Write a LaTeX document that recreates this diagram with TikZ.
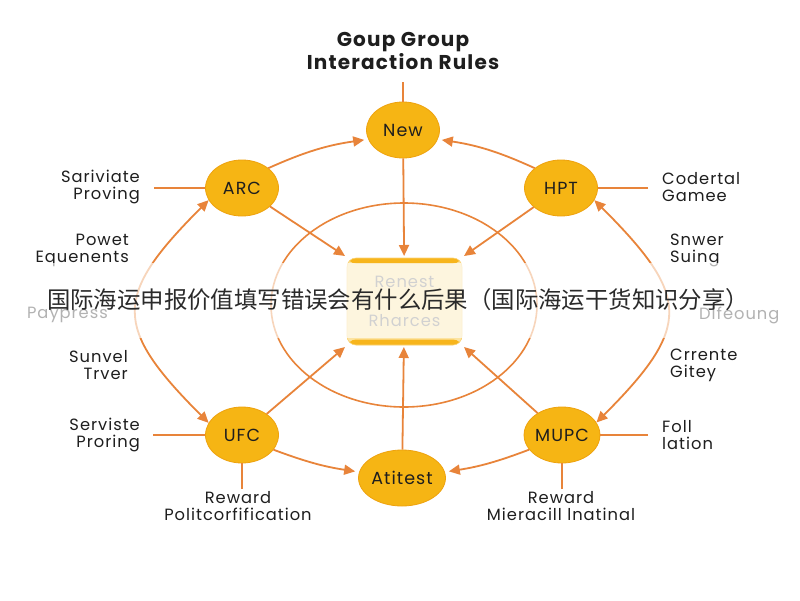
\documentclass[tikz,border=0pt]{standalone}
\usepackage{fontspec}
\usetikzlibrary{shapes.geometric,arrows.meta}
\newfontfamily\popfont[LetterSpace=6]{Poppins}
\newfontfamily\cjkfont{Noto Sans CJK SC}
\newcommand\labfont{\popfont\fontsize{16.3}{17}\selectfont}
\newcommand\hubfont{\popfont\fontsize{17.5}{19}\selectfont}
\newcommand\titfont{\popfont\bfseries\fontsize{20}{18.5}\selectfont}
\definecolor{arrC}{HTML}{E8843A}
\definecolor{nodeY}{HTML}{F6B514}
\definecolor{nodeE}{HTML}{EEA20E}
\definecolor{txt}{HTML}{1E1E1E}
\definecolor{boxF}{HTML}{FCE3A0}
\definecolor{boxB}{HTML}{F7B51C}
\definecolor{boxT}{HTML}{7A7A7A}
\definecolor{wmk}{HTML}{2A2A2A}
\tikzset{
  conn/.style={draw=arrC, line width=1.8pt},
  arr/.style={conn, -{Triangle[length=11pt,width=10pt]}},
  dbl/.style={conn, {Triangle[length=11pt,width=10pt]}-{Triangle[length=11pt,width=10pt]}},
  hub/.style={ellipse, fill=nodeY, draw=nodeE, line width=0.8pt,
    minimum width=73pt, minimum height=56pt, inner sep=0pt, font=\hubfont, text=txt},
  labl/.style={font=\labfont, text=txt, align=right, anchor=east, inner sep=0pt},
  labr/.style={font=\labfont, text=txt, align=left, anchor=west, inner sep=0pt},
  labb/.style={font=\labfont, text=txt, align=center, inner sep=0pt},
  centerbox/.style={rectangle, rounded corners=9pt, fill=boxF, draw=boxB!60, line width=0.6pt,
    minimum width=115pt, minimum height=87pt, outer sep=2pt, inner sep=0pt,
    font=\labfont, text=boxT, align=center,
    path picture={
      \fill[boxB] (path picture bounding box.north west) rectangle ([yshift=-5.5pt]path picture bounding box.north east);
      \fill[boxB] (path picture bounding box.south west) rectangle ([yshift=5.5pt]path picture bounding box.south east);
    }},
  ring/.style={draw=arrC, line width=1.6pt},
  band/.style={fill=white, opacity=0.66},
  wmtext/.style={font=\cjkfont\fontsize{23.4}{26}\selectfont, text=wmk, inner sep=0pt}
}
\begin{document}
\begin{tikzpicture}[x=1pt,y=-1pt]
\useasboundingbox (0,0) rectangle (800,600);
\fill[white] (0,0) rectangle (800,600);

% title
\node[font=\titfont, text=txt, align=center] (title) at (403,51) {Goup Group\\Interaction Rules};

% inner ring
\draw[ring] (404,305) ellipse [x radius=133, y radius=102];

% hubs
\node[hub] (New) at (403,130) {New};
\node[hub] (ARC) at (242,188) {ARC};
\node[hub] (HPT) at (561,188) {HPT};
\node[hub] (UFC) at (242,435) {UFC};
\node[hub] (MUPC) at (562,435) {MUPC};
\node[hub] (Art) at (402,478) {Atitest};

% central box
\node[centerbox] (box) at (404.5,301.5) {Renest\\[22pt]Rharces};

% label stubs
\coordinate (tNew) at (403,82);
\coordinate (lARC) at (154,188);
\coordinate (rHPT) at (648,188);
\coordinate (lUFC) at (153,435);
\coordinate (rMUPC) at (648,435);
\coordinate (bUFC) at (242,489);
\coordinate (bMUPC) at (562,489);
\draw[conn] (tNew) -- (New);
\draw[conn] (lARC) -- (ARC);
\draw[conn] (rHPT) -- (HPT);
\draw[conn] (lUFC) -- (UFC);
\draw[conn] (rMUPC) -- (MUPC);
\draw[conn] (bUFC) -- (UFC);
\draw[conn] (bMUPC) -- (MUPC);

% arrows to the box
\draw[arr] (New) -- (box);
\draw[arr] (Art) -- (box);
\draw[arr] (ARC) -- (box.north west);
\draw[arr] (HPT) -- (box.north east);
\draw[arr] (UFC) -- (box.south west);
\draw[arr] (MUPC) -- (box.south east);

% arcs between hubs
\draw[arr, shorten >=4pt] (ARC.37) to[bend left=8] (New.195);
\draw[arr, shorten >=4pt] (HPT.143) to[bend right=8] (New.-15);
\draw[arr, shorten >=4pt] (UFC.335) to[bend right=6] (Art.172);
\draw[arr, shorten >=4pt] (MUPC.204) to[bend left=6] (Art.8);
\draw[dbl] (ARC.200) .. controls +(-96,96) and +(-96,-96) .. (UFC.160);
\draw[dbl] (HPT.340) .. controls +(96,96) and +(96,-96) .. (MUPC.20);

% labels
\node[labl] (L1) at (140,187) {Sariviate\\Proving};
\node[labl] (L2) at (129,250) {Powet\\Equenents};
\node[labl] (L3) at (108,315) {Paypress};
\node[labl] (L4) at (128,365) {Sunvel\\Trver};
\node[labl] (L5) at (140,435) {Serviste\\Proring};
\node[labr] (R1) at (662,187) {Codertal\\Gamee};
\node[labr] (R2) at (670,250) {Snwer\\Suing};
\node[labr] (R3) at (699,315) {Dlfeoung};
\node[labr] (R4) at (670,365) {Crrente\\Gitey};
\node[labr] (R5) at (662,435) {Foll\\lation};
\node[labb] (B1) at (238,506) {Reward\\Politcorfification};
\node[labb] (B2) at (561,506) {Reward\\Mieracill lnatinal};

% watermark band and text
\fill[band] (0,263) rectangle (800,338);
\node[wmtext] (wm) at (398,300) {国际海运申报价值填写错误会有什么后果（国际海运干货知识分享）};
\end{tikzpicture}
\end{document}
